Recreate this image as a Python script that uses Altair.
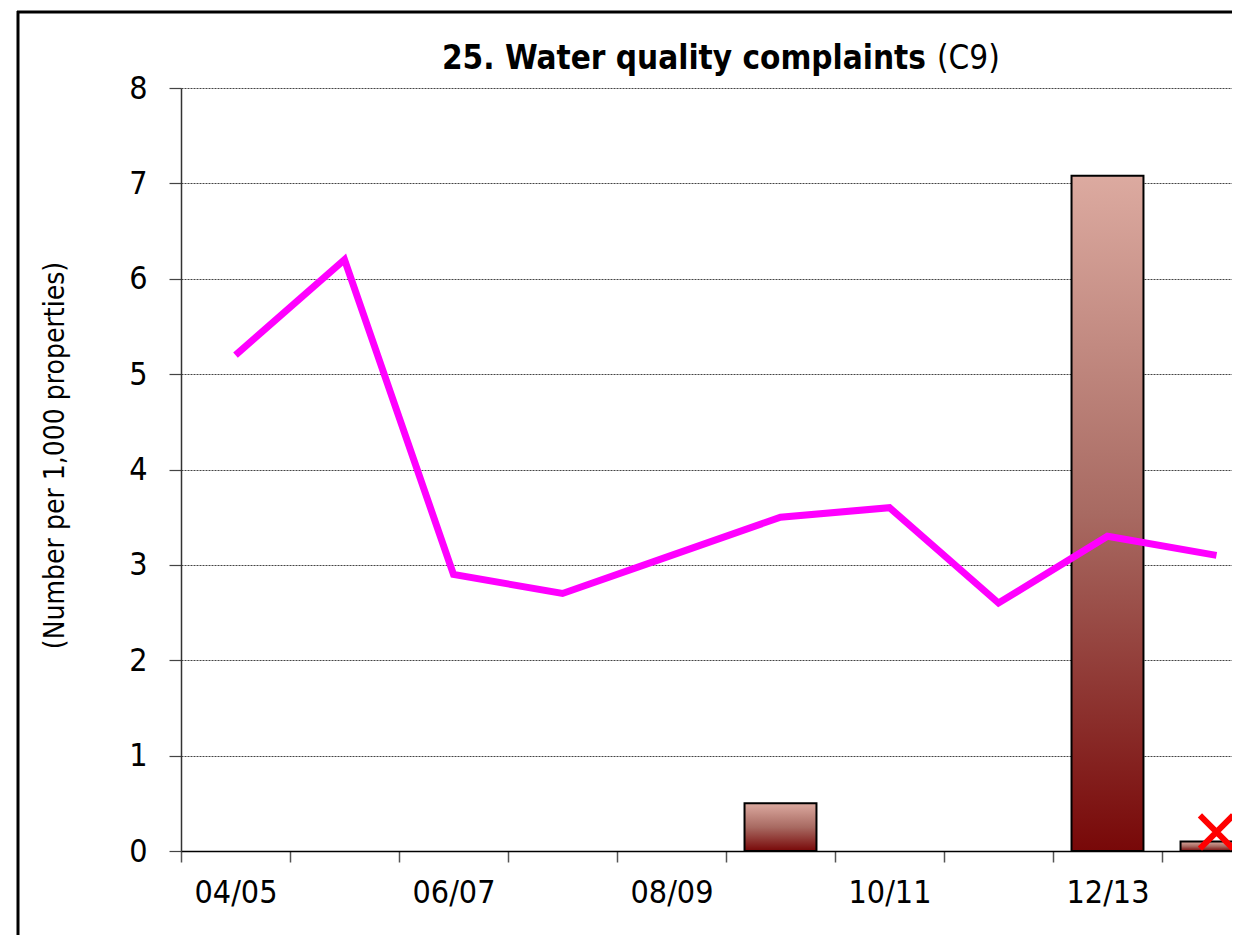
import altair as alt
import pandas as pd

years = ["04/05", "05/06", "06/07", "07/08", "08/09", "09/10", "10/11", "11/12", "12/13", "13/14"]
line_vals = [5.2, 6.2, 2.9, 2.7, 3.1, 3.5, 3.6, 2.6, 3.3, 3.1]
bar_years = ["09/10", "12/13", "13/14"]
bar_vals = [0.5, 7.08, 0.1]
marker_years = ["13/14"]
marker_vals = [0.2]
y_ticks = [0, 1, 2, 3, 4, 5, 6, 7, 8]
title_main = "25. Water quality complaints"
title_code = "(C9)"
y_title = "(Number per 1,000 properties)"

FONT = "Liberation Sans Narrow, Arial Narrow, DejaVu Sans Condensed, sans-serif"
BAND = 109.0
PLOT_W = 1051
PLOT_H = 763
half = 0.33

idx = {y: i for i, y in enumerate(years)}
line_df = pd.DataFrame({"year": years, "val": line_vals, "i": [idx[y] for y in years]})
bar_df = pd.DataFrame({"year": bar_years, "val": bar_vals, "i": [idx[y] for y in bar_years]})
mk_df = pd.DataFrame({"year": marker_years, "val": marker_vals, "i": [idx[y] for y in marker_years]})
one = pd.DataFrame({"k": [0]})

x_dom = [-0.5, -0.5 + PLOT_W / BAND]
arr = "[" + ",".join("'" + y + "'" for y in years) + "]"
n = str(len(years))
label_expr = ("(round(datum.value + 0.5) % 2 == 0 && round(datum.value + 0.5) < " + n + ") ? "
              + arr + "[round(datum.value + 0.5)] : ''")

xscale = alt.Scale(domain=x_dom, nice=False, zero=False)
yscale = alt.Scale(domain=[0, 8], nice=False)

x_axis = alt.Axis(
    values=[i - 0.5 for i in range(len(years) + 1)],
    labelExpr=label_expr, labelOffset=BAND / 2, labelFlush=False, labelOverlap=False,
    labelAlign="center", labelBaseline="top", labelPadding=15,
    labelFont=FONT, labelFontSize=32, labelColor="black",
    tickSize=11, tickColor="#555", tickWidth=1.5,
    domainColor="black", domainWidth=1.5, grid=False, title=None,
)
y_axis = alt.Axis(
    values=y_ticks, labelFont=FONT, labelFontSize=32, labelColor="black",
    labelPadding=22, labelBaseline="middle",
    tickSize=12, tickColor="#444", tickWidth=1.2,
    domainColor="#333", domainWidth=1.5,
    grid=True, gridColor="#444", gridDash=[2, 1], gridWidth=1,
    title=y_title, titleFont=FONT, titleFontSize=28, titleFontWeight="normal",
    titleColor="black", titleX=-126, titleY=367, titleAngle=270,
    titleAlign="center", titleBaseline="middle",
)

base_x = alt.X("i:Q", scale=xscale, axis=x_axis)

grad = alt.Gradient(
    gradient="linear", x1=0, y1=1, x2=0, y2=0,
    stops=[alt.GradientStop(color="#780808", offset=0),
           alt.GradientStop(color="#A86A62", offset=0.5),
           alt.GradientStop(color="#DCAAA0", offset=1)],
)

bars = alt.Chart(bar_df).transform_calculate(
    x0="datum.i - " + str(half), x1="datum.i + " + str(half)
).mark_bar(fill=grad, stroke="black", strokeWidth=2, clip=True).encode(
    x=alt.X("x0:Q", scale=xscale, axis=x_axis),
    x2="x1:Q",
    y=alt.Y("val:Q", scale=yscale, axis=y_axis),
    y2=alt.datum(0),
)

line = alt.Chart(line_df).mark_line(color="#FF00FF", strokeWidth=7, clip=True).encode(
    x=base_x, y=alt.Y("val:Q", scale=yscale, axis=y_axis),
)

marker = alt.Chart(mk_df).mark_point(
    shape="M-1,-1L1,1M1,-1L-1,1", filled=False, stroke="#FF0000", strokeWidth=6, size=1100, opacity=1
).encode(x=base_x, y=alt.Y("val:Q", scale=yscale, axis=y_axis))

frame_left = alt.Chart(one).mark_rule(color="black", strokeWidth=3, clip=False).encode(
    x=alt.value(-163), y=alt.value(-77), y2=alt.value(1000),
)
frame_top = alt.Chart(one).mark_rule(color="black", strokeWidth=3, clip=False).encode(
    x=alt.value(-164), x2=alt.value(1200), y=alt.value(-76),
)

t1 = alt.Chart(one).mark_text(
    text=title_main, font=FONT, fontSize=33, fontWeight="bold", align="right", baseline="alphabetic", color="black"
).encode(x=alt.value(745), y=alt.value(-19))
t2 = alt.Chart(one).mark_text(
    text=title_code, font=FONT, fontSize=33, fontWeight="normal", align="left", baseline="alphabetic", color="black"
).encode(x=alt.value(756), y=alt.value(-19))

chart = alt.layer(bars, line, marker, frame_left, frame_top, t1, t2).properties(
    width=PLOT_W, height=PLOT_H, background="white",
    autosize=alt.AutoSizeParams(type="none"),
    padding={"left": 173, "top": 80, "right": 0, "bottom": 84},
).configure_view(stroke=None)

chart.save("out.html", embed_options={"renderer": "svg", "actions": False})
